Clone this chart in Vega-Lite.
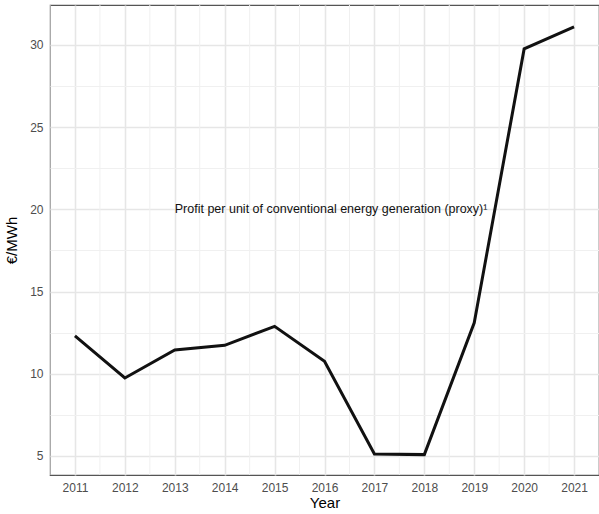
{
  "$schema": "https://vega.github.io/schema/vega-lite/v6.json",
  "width": 549,
  "height": 470,
  "autosize": {"type": "none"},
  "padding": {"left": 50, "top": 5, "right": 0, "bottom": 39},
  "background": "white",
  "config": {
    "view": {"stroke": "#555555", "strokeWidth": 1.2},
    "font": "Liberation Sans",
    "axis": {
      "labelFont": "Liberation Sans",
      "titleFont": "Liberation Sans",
      "labelColor": "#4d4d4d",
      "labelFontSize": 12,
      "titleColor": "#000000",
      "titleFontSize": 15,
      "titleFontWeight": "normal",
      "domain": false,
      "ticks": false,
      "labelPadding": 7,
      "labelOverlap": false
    }
  },
  "data": {
    "values": [
      {"Year": 2011, "v": 12.3},
      {"Year": 2012, "v": 9.74},
      {"Year": 2013, "v": 11.45},
      {"Year": 2014, "v": 11.73},
      {"Year": 2015, "v": 12.88},
      {"Year": 2016, "v": 10.76},
      {"Year": 2017, "v": 5.12},
      {"Year": 2018, "v": 5.08},
      {"Year": 2019, "v": 13.1},
      {"Year": 2020, "v": 29.76},
      {"Year": 2021, "v": 31.1}
    ]
  },
  "layer": [
    {
      "data": {"values": [{"m": 2010.5}, {"m": 2011.5}, {"m": 2012.5}, {"m": 2013.5}, {"m": 2014.5}, {"m": 2015.5}, {"m": 2016.5}, {"m": 2017.5}, {"m": 2018.5}, {"m": 2019.5}, {"m": 2020.5}]},
      "mark": {"type": "rule", "color": "#f0f0f0", "strokeWidth": 1},
      "encoding": {
        "x": {"field": "m", "type": "quantitative"}
      }
    },
    {
      "mark": {"type": "line", "color": "#111111", "strokeWidth": 3},
      "encoding": {
        "x": {"field": "Year", "type": "quantitative", "scale": {"domain": [2010.5, 2021.5], "nice": false, "zero": false},
          "axis": {"values": [2011, 2012, 2013, 2014, 2015, 2016, 2017, 2018, 2019, 2020, 2021],
            "format": "d",
            "title": "Year", "titlePadding": 2, "labelColor": "#4d4d4d", "labelOverlap": false,
            "gridColor": "#e6e6e6", "gridWidth": 1.6}},
        "y": {"field": "v", "type": "quantitative", "scale": {"domain": [3.84, 32.43], "nice": false, "zero": false},
          "axis": {"values": [5, 7.5, 10, 12.5, 15, 17.5, 20, 22.5, 25, 27.5, 30, 32.5],
            "labelExpr": "datum.value % 5 == 0 ? format(datum.value, 'd') : ''",
            "title": "€/MWh", "titlePadding": 10, "labelColor": "#4d4d4d", "labelOverlap": false,
            "gridColor": {"condition": {"test": "datum.value % 5 != 0", "value": "#f0f0f0"}, "value": "#e6e6e6"},
            "gridWidth": {"condition": {"test": "datum.value % 5 != 0", "value": 1}, "value": 1.6}}}
      }
    },
    {
      "data": {"values": [{"Year": 2013, "v": 20, "label": "Profit per unit of conventional energy generation (proxy)¹"}]},
      "mark": {"type": "text", "align": "left", "baseline": "middle", "fontSize": 12.5, "font": "Liberation Sans", "color": "#111111"},
      "encoding": {
        "x": {"field": "Year", "type": "quantitative"},
        "y": {"field": "v", "type": "quantitative"},
        "text": {"field": "label"}
      }
    }
  ]
}
